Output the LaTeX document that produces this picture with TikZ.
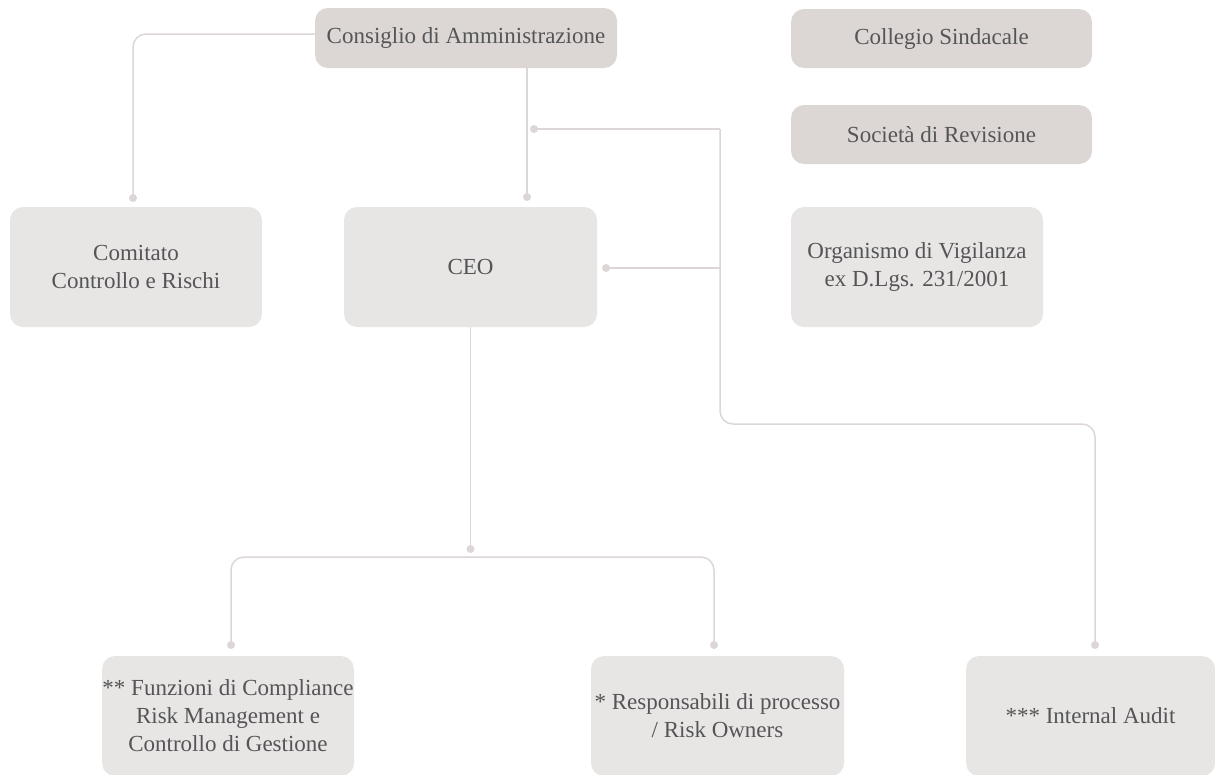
\documentclass[tikz,border=0pt]{standalone}
\usepackage{fontspec}
\setmainfont{Liberation Serif}
\definecolor{boxdark}{RGB}{220,215,212}
\definecolor{boxlight}{RGB}{232,230,229}
\definecolor{linec}{RGB}{220,214,214}
\definecolor{txt}{RGB}{85,85,87}
\tikzset{
  orgbox/.style={rectangle, rounded corners=13pt, draw=none, text=txt, align=center,
    font=\fontsize{23}{28}\selectfont, inner sep=0pt},
  darkbox/.style={orgbox, fill=boxdark, minimum height=60pt},
  lightbox/.style={orgbox, fill=boxlight, minimum height=120pt},
  conn/.style={draw=linec, line width=1.5pt},
  dotc/.style={fill=linec}
}
\begin{document}
\begin{tikzpicture}[x=1pt,y=-1pt]
\useasboundingbox (0,0) rectangle (1215,774);
\clip (0,0) rectangle (1215,774);
% boxes
\node[darkbox, minimum width=302pt] (cda) at (466,38) {Consiglio di Amministrazione};
\node[darkbox, minimum width=301pt, minimum height=59pt] (cs) at (941.5,38.5) {Collegio Sindacale};
\node[darkbox, minimum width=301pt, minimum height=59pt] (sr) at (941.5,134.5) {Società di Revisione};
\node[lightbox, minimum width=252pt] (ccr) at (136,267) {Comitato\\Controllo e Rischi};
\node[lightbox, minimum width=253pt] (ceo) at (470.5,267) {CEO};
\node[lightbox, minimum width=252pt] (odv) at (917,267) {Organismo di Vigilanza\\ex D.Lgs. 231/2001};
\node[lightbox, minimum width=252pt] (fun) at (228,716) {** Funzioni di Compliance\\Risk Management e\\Controllo di Gestione};
\node[lightbox, minimum width=253pt] (resp) at (717.5,716) {* Responsabili di processo\\/ Risk Owners};
\node[lightbox, minimum width=249pt] (ia) at (1090.5,716) {*** Internal Audit};
% connector points
\coordinate (d1) at (133,198);
\coordinate (d2) at (527,197);
\coordinate (d3) at (534,129);
\coordinate (j1) at (720,129);
\coordinate (j2) at (720,424);
\coordinate (j3) at (1095,424);
\coordinate (d4) at (1095,645);
\coordinate (d5) at (606,268);
\coordinate (d6) at (470.5,549);
\coordinate (b1) at (231,557);
\coordinate (b2) at (714,557);
\coordinate (d7) at (231,645);
\coordinate (d8) at (714,645);
% connectors
\draw[conn, rounded corners=13pt] ([yshift=4pt]cda.west) -| (d1);
\draw[conn] (d2 |- cda.south) -- (d2);
\draw[conn] (d3) -- (j1);
\draw[conn, rounded corners=13pt] (j1) -- (j2) -- (j3) -- (d4);
\draw[conn] (j1 |- d5) -- (d5);
\draw[conn] (ceo.south) -- (d6);
\draw[conn, rounded corners=13pt] (d7) -- (b1) -- (b2) -- (d8);
% dots
\foreach \p in {d1,d2,d3,d4,d5,d6,d7,d8} \fill[dotc] (\p) circle (4pt);
\end{tikzpicture}
\end{document}
